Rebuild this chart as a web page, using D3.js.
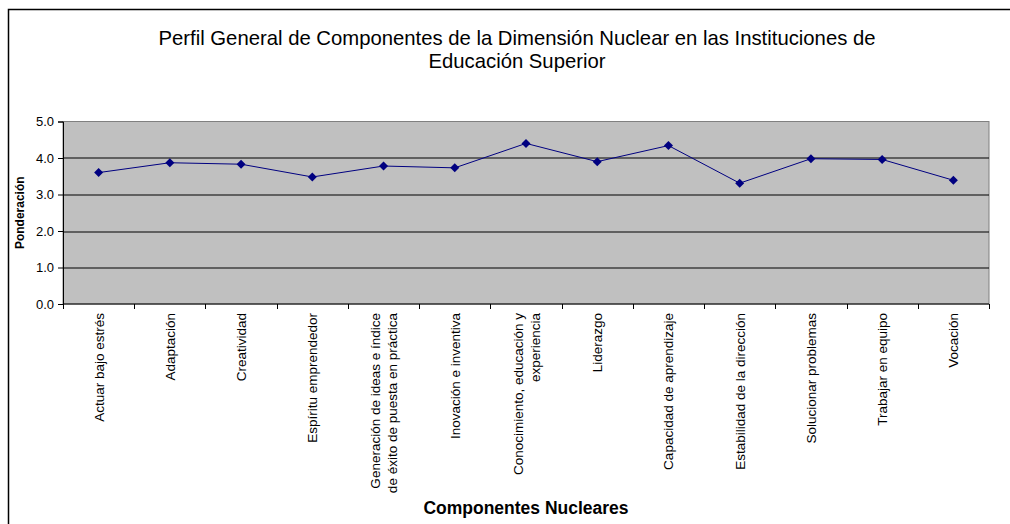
<!DOCTYPE html>
<html>
<head>
<meta charset="utf-8">
<script src="https://cdn.jsdelivr.net/npm/d3@7"></script>
<style>
  body { margin: 0; background: #fff; }
  text { font-family: "Liberation Sans", Arial, sans-serif; }
</style>
</head>
<body>
<div id="chart"></div>
<script>
// data
var categories = [
  ["Actuar bajo estrés"],
  ["Adaptación"],
  ["Creatividad"],
  ["Espíritu emprendedor"],
  ["Generación de ideas e índice", "de éxito de puesta en práctica"],
  ["Inovación e inventiva"],
  ["Conocimiento, educación y", "experiencia"],
  ["Liderazgo"],
  ["Capacidad de aprendizaje"],
  ["Estabilidad de la dirección"],
  ["Solucionar problemas"],
  ["Trabajar en equipo"],
  ["Vocación"]
];
var values = [3.60, 3.87, 3.83, 3.48, 3.78, 3.73, 4.40, 3.90, 4.34, 3.31, 3.98, 3.96, 3.39];
var yTicks = [0, 1, 2, 3, 4, 5];

var W = 1010, H = 524;
var margin = {top: 121.5, right: 21, bottom: 220, left: 63},
    width = W - margin.left - margin.right,
    height = 304 - margin.top;

var svg = d3.select("#chart").append("svg")
  .attr("width", W).attr("height", H);

// outer chart frame (runs off the picture at right and bottom)
svg.append("rect")
  .attr("x", 8.5).attr("y", 9.5)
  .attr("width", W + 20).attr("height", H + 20)
  .attr("fill", "none").attr("stroke", "#000").attr("stroke-width", 1.5);

// title
svg.append("text")
  .attr("x", 517).attr("y", 45)
  .attr("text-anchor", "middle")
  .style("font-size", "20.3px")
  .text("Perfil General de Componentes de la Dimensión Nuclear en las Instituciones de");
svg.append("text")
  .attr("x", 517).attr("y", 68)
  .attr("text-anchor", "middle")
  .style("font-size", "20.3px")
  .text("Educación Superior");

var g = svg.append("g")
  .attr("transform", "translate(" + margin.left + "," + margin.top + ")");

var x = d3.scaleBand()
  .domain(d3.range(categories.length))
  .range([0, width]);

var y = d3.scaleLinear()
  .domain([0, 5])
  .range([height, 0]);

// plot area
g.append("rect")
  .attr("width", width).attr("height", height)
  .attr("fill", "#C0C0C0")
  .attr("stroke", "#808080");

// gridlines
g.append("g")
  .selectAll("line")
  .data(yTicks.filter(function(d){ return d > 0 && d < 5; }))
  .enter()
  .append("line")
    .attr("x1", 0).attr("x2", width)
    .attr("y1", function(d){ return Math.round(y(d)) + 0.5; })
    .attr("y2", function(d){ return Math.round(y(d)) + 0.5; })
    .attr("stroke", "#000");

// Y axis
var yAxis = g.append("g")
  .call(d3.axisLeft(y).tickValues(yTicks).tickFormat(d3.format(".1f")).tickSize(5).tickPadding(4));
yAxis.select(".domain").attr("stroke", "#000");
yAxis.selectAll("text").style("font-size", "13px").attr("fill", "#000");

// X axis: ticks on category boundaries
var xb = g.append("g").attr("transform", "translate(0," + height + ")");
xb.append("line").attr("x1", 0).attr("x2", width).attr("stroke", "#000");
xb.selectAll(".tk")
  .data(d3.range(categories.length + 1))
  .enter()
  .append("line")
    .attr("class", "tk")
    .attr("x1", function(i){ return Math.round(i * x.step()) + 0.5; })
    .attr("x2", function(i){ return Math.round(i * x.step()) + 0.5; })
    .attr("y1", 0).attr("y2", 5)
    .attr("stroke", "#000");

// X labels, rotated
var lineH = 17;
xb.selectAll(".lbl")
  .data(categories)
  .enter()
  .append("text")
    .attr("class", "lbl")
    .attr("text-anchor", "end")
    .style("font-size", "13.5px")
    .attr("transform", function(d, i) {
      var cx = x(i) + x.bandwidth() / 2 + 5 - (d.length - 1) * lineH / 2;
      return "translate(" + cx + ",9) rotate(-90)";
    })
    .each(function(d) {
      var t = d3.select(this);
      d.forEach(function(s, k) {
        t.append("tspan").attr("x", 0).attr("y", k * lineH).text(s);
      });
    });

// line + markers
var line = d3.line()
  .x(function(d, i){ return x(i) + x.bandwidth() / 2; })
  .y(function(d){ return y(d); });

g.append("path")
  .datum(values)
  .attr("d", line)
  .attr("fill", "none")
  .attr("stroke", "#000080")
  .attr("stroke-width", 1);

g.append("g")
  .selectAll("path")
  .data(values)
  .enter()
  .append("path")
    .attr("d", d3.symbol().type(d3.symbolDiamond2).size(52))
    .attr("transform", function(d, i){ return "translate(" + (x(i) + x.bandwidth() / 2) + "," + y(d) + ")"; })
    .attr("fill", "#000080");

// axis titles
svg.append("text")
  .attr("transform", "translate(24," + (margin.top + height / 2) + ") rotate(-90)")
  .attr("text-anchor", "middle")
  .style("font-size", "12px")
  .style("font-weight", "bold")
  .text("Ponderación");

svg.append("text")
  .attr("x", 526).attr("y", 514)
  .attr("text-anchor", "middle")
  .style("font-size", "17.5px")
  .style("font-weight", "bold")
  .text("Componentes Nucleares");
</script>
</body>
</html>
